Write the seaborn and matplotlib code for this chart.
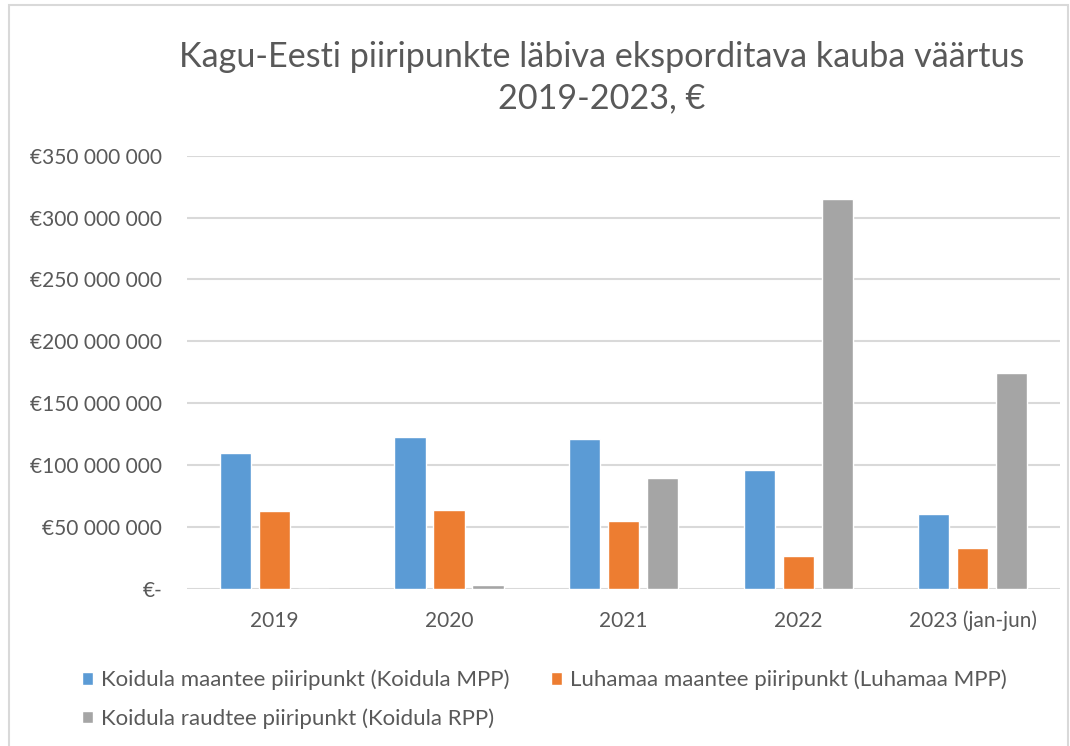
import pandas as pd
import numpy as np
import seaborn as sns
import matplotlib.pyplot as plt
from matplotlib.patches import Rectangle

years = ['2019', '2020', '2021', '2022', '2023 (jan-jun)']
series = ['Koidula maantee piiripunkt (Koidula MPP)',
          'Luhamaa maantee piiripunkt (Luhamaa MPP)',
          'Koidula raudtee piiripunkt (Koidula RPP)']
koidula_mpp = [109.5e6, 122.6e6, 121.3e6, 95.7e6, 59.9e6]
luhamaa_mpp = [62.6e6, 63.2e6, 54.3e6, 26.3e6, 32.5e6]
koidula_rpp = [0, 2.8e6, 89.0e6, 315.2e6, 174.0e6]
colors = ['#5b9bd5', '#ed7d31', '#a5a5a5']
yticks = [0, 50e6, 100e6, 150e6, 200e6, 250e6, 300e6, 350e6]

rows = []
for s, vals in zip(series, [koidula_mpp, luhamaa_mpp, koidula_rpp]):
    for y, v in zip(years, vals):
        rows.append({'aasta': y, 'seeria': s, 'vaartus': v})
df = pd.DataFrame(rows)

sns.set_style('white')
plt.rcParams['font.family'] = ['Lato', 'DejaVu Sans']

fig = plt.figure(figsize=(10.7, 7.46), dpi=100)
ax = fig.add_axes([0.1748, 0.2111, 0.8159, 0.5801])
sns.barplot(data=df, x='aasta', y='vaartus', hue='seeria', palette=colors,
            width=0.67, gap=0.2, ax=ax, legend=True, saturation=1)

ax.set_ylim(0, 350e6)
ax.set_yticks(yticks)
def fmt(v):
    if v == 0:
        return '€-'
    return '€' + f'{int(v):,}'.replace(',', ' ')
ax.set_yticklabels([fmt(v) for v in yticks])
ax.yaxis.grid(True, color='#d9d9d9', linewidth=1.5)
ax.set_axisbelow(True)
for sp in ax.spines.values():
    sp.set_visible(False)
ax.tick_params(axis='both', length=0, labelsize=15, labelcolor='#595959')
ax.tick_params(axis='x', pad=16)
ax.tick_params(axis='y', pad=18)
ax.set_xlabel('')
ax.set_ylabel('')

h, l = ax.get_legend_handles_labels()
ax.get_legend().remove()
# row order: first two on top row, third below
order = [0, 2, 1]
fig.legend([h[i] for i in order], [l[i] for i in order], loc='upper left',
           bbox_to_anchor=(0.068, 0.114), ncol=2,
           frameon=False, fontsize=16, labelcolor='#595959',
           handlelength=0.5, handleheight=0.5, handletextpad=0.35,
           columnspacing=1.9, labelspacing=0.8, borderaxespad=0)

fig.text(0.562, 0.896, 'Kagu-Eesti piiripunkte läbiva eksporditava kauba väärtus\n2019-2023, €',
         ha='center', va='center', fontsize=24.6, color='#595959', linespacing=1.38)

fig.patches.append(Rectangle((0.008, -0.01), 0.99, 1.003, transform=fig.transFigure,
                             fill=False, edgecolor='#d9d9d9', linewidth=1.5))

fig.savefig('out.png', dpi=100)
